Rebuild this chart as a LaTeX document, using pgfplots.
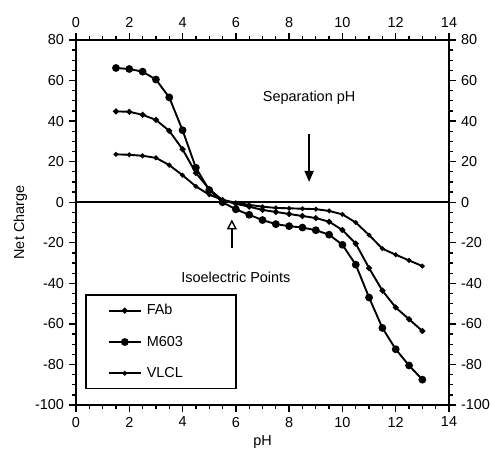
\documentclass[border=0pt]{standalone}
\usepackage{fontspec}
\setmainfont{Liberation Sans}
\usepackage{pgfplots}
\pgfplotsset{compat=1.18}
\usetikzlibrary{arrows.meta}
\pgfplotstableread{
x M603 FAb VLCL
1.5 66.2 44.8 23.6
2.0 65.7 44.6 23.4
2.5 64.4 43.1 22.9
3.0 60.5 40.6 21.9
3.5 51.7 35.2 18.3
4.0 35.5 26.1 13.3
4.5 17.0 14.4 7.8
5.0 6.0 6.5 3.7
5.5 0.0 1.0 1.2
6.0 -3.5 -0.8 -0.3
6.5 -6.2 -2.2 -1.3
7.0 -8.8 -3.8 -2.2
7.5 -10.8 -4.8 -2.8
8.0 -11.8 -5.8 -3.0
8.5 -12.5 -6.8 -3.2
9.0 -13.8 -7.8 -3.4
9.5 -16.0 -9.6 -4.3
10.0 -21.0 -13.7 -6.0
10.5 -30.8 -20.4 -10.0
11.0 -47.0 -32.5 -16.2
11.5 -62.0 -43.6 -22.9
12.0 -72.5 -51.9 -25.9
12.5 -80.5 -57.7 -28.7
13.0 -87.5 -63.5 -31.5
}\datatable
\begin{document}
\fontsize{14.5}{17}\selectfont
\begin{tikzpicture}
\useasboundingbox (-76bp,-45bp) rectangle (414bp,405bp);
\pgfplotsset{
  common/.style={
    width=373bp, height=365bp, scale only axis,
    at={(0,0)}, anchor=south west,
    xmin=0, xmax=14, ymin=-100, ymax=80,
    xtick={0,2,...,14}, ytick={-100,-80,...,80},
    minor x tick num=3, minor y tick num=3,
    tick align=outside,
    major tick length=7bp, minor tick length=4bp,
    every tick/.style={black, line width=1.3bp},
    axis line style={line width=1.8bp},
    /pgf/number format/assume math mode=true,
    tick label style={font=\fontsize{14.5}{17}\selectfont},
    label style={font=\fontsize{14.5}{17}\selectfont},
  }
}
\begin{axis}[common,
  xtick pos=bottom, ytick pos=left,
  xlabel={pH}, ylabel={Net Charge},
  xlabel style={yshift=2bp},
  ylabel style={yshift=-2bp},
  legend style={at={(axis description cs:0.024,0.043)}, anchor=south west,
    draw=black, line width=1.8bp, inner xsep=22bp, inner ysep=7bp,
    row sep=15bp, font=\fontsize{14.5}{17}\selectfont,
    nodes={inner xsep=5bp}},
  legend cell align=left,
  legend image code/.code={\draw[#1, mark repeat=2, mark phase=2] plot coordinates {(0bp,0bp) (16bp,0bp) (32bp,0bp)};},
]
\draw[line width=1.8bp] (axis cs:0,0) -- (axis cs:14,0);
\addplot[black, line width=1.9bp, mark=*, mark size=1.9bp] table[x=x, y=FAb] {\datatable};
\addlegendentry{FAb}
\addplot[black, line width=1.9bp, mark=*, mark size=2.9bp] table[x=x, y=M603] {\datatable};
\addlegendentry{M603\hspace*{26bp}}
\addplot[black, line width=1.9bp, mark=*, mark size=1.3bp] table[x=x, y=VLCL] {\datatable};
\addlegendentry{VLCL}
\draw[line width=1.8bp, -{Triangle[width=9bp,length=11bp]}] (axis cs:8.75,33.5) -- (axis cs:8.75,10);
\draw[line width=1.4bp, -{Triangle[open,width=10bp,length=10bp,line width=1.4bp]}] (axis cs:5.85,-22.5) -- (axis cs:5.85,-8.5);
\node at (axis cs:8.75,51.6) {Separation pH};
\node at (axis cs:6.0,-37) {Isoelectric Points};
\end{axis}
\begin{axis}[common,
  axis x line*=top, axis y line*=right,
  xtick pos=top, ytick pos=right,
]
\end{axis}
\end{tikzpicture}
\end{document}
